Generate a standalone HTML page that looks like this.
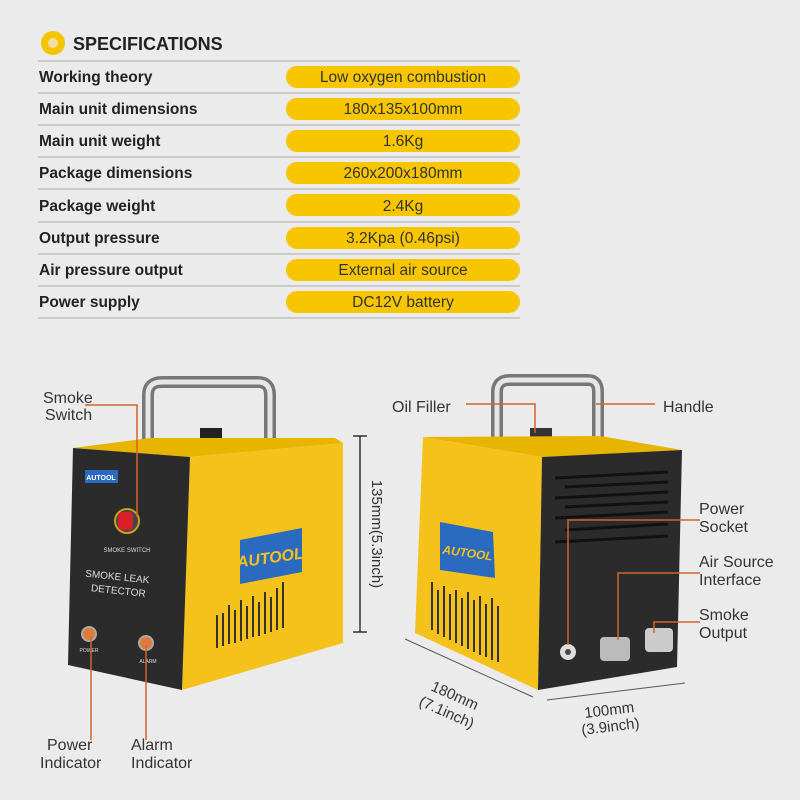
<!DOCTYPE html>
<html><head><meta charset="utf-8"><style>
html,body{margin:0;padding:0;background:#ebebeb;}
svg{display:block;font-family:"Liberation Sans",sans-serif;}
</style></head><body>
<svg width="800" height="800" viewBox="0 0 800 800" xmlns="http://www.w3.org/2000/svg">
<rect width="800" height="800" fill="#ebebeb"/>
<circle cx="53" cy="43" r="12" fill="#f5c400"/><circle cx="53" cy="43" r="5" fill="#f0e0a0"/>
<text x="73" y="50" font-size="18" font-weight="bold" fill="#222">SPECIFICATIONS</text>
<g stroke="#b8b8b8" stroke-width="1.2">
<line x1="38" y1="61" x2="520" y2="61"/><line x1="38" y1="93" x2="520" y2="93"/>
<line x1="38" y1="125" x2="520" y2="125"/><line x1="38" y1="157" x2="520" y2="157"/>
<line x1="38" y1="189" x2="520" y2="189"/><line x1="38" y1="222" x2="520" y2="222"/>
<line x1="38" y1="254" x2="520" y2="254"/><line x1="38" y1="286" x2="520" y2="286"/>
<line x1="38" y1="318" x2="520" y2="318"/>
</g>
<g fill="#f7c600">
<rect x="286" y="66" width="234" height="22" rx="11"/><rect x="286" y="98" width="234" height="22" rx="11"/>
<rect x="286" y="130" width="234" height="22" rx="11"/><rect x="286" y="162" width="234" height="22" rx="11"/>
<rect x="286" y="194" width="234" height="22" rx="11"/><rect x="286" y="227" width="234" height="22" rx="11"/>
<rect x="286" y="259" width="234" height="22" rx="11"/><rect x="286" y="291" width="234" height="22" rx="11"/>
</g>
<g font-size="15.5" font-weight="bold" fill="#222">
<text x="39" y="82">Working theory</text><text x="39" y="114">Main unit dimensions</text>
<text x="39" y="146">Main unit weight</text><text x="39" y="178">Package dimensions</text>
<text x="39" y="211">Package weight</text><text x="39" y="243">Output pressure</text>
<text x="39" y="275">Air pressure output</text><text x="39" y="307">Power supply</text>
</g>
<g font-size="15.5" fill="#333" text-anchor="middle">
<text x="403" y="82">Low oxygen combustion</text><text x="403" y="114">180x135x100mm</text>
<text x="403" y="146">1.6Kg</text><text x="403" y="178">260x200x180mm</text>
<text x="403" y="211">2.4Kg</text><text x="403" y="243">3.2Kpa (0.46psi)</text>
<text x="403" y="275">External air source</text><text x="403" y="307">DC12V  battery</text>
</g>

<path d="M148 445 V395 Q148 382 162 382 H258 Q270 382 270 395 V445" fill="none" stroke="#777" stroke-width="12"/>
<path d="M148 445 V395 Q148 382 162 382 H258 Q270 382 270 395 V445" fill="none" stroke="#e6e6e6" stroke-width="5"/>
<rect x="200" y="428" width="22" height="14" fill="#222"/>
<polygon points="73,448 150,438 335,438 343,443 190,457" fill="#e7b400"/>
<polygon points="190,457 343,443 343,643 182,690" fill="#f5c21b"/>
<polygon points="73,448 190,457 182,690 68,665" fill="#2b2b2b"/>
<rect x="85" y="470" width="33" height="13" fill="#2a6bc0"/><text x="101" y="480" font-size="7" fill="#fff" text-anchor="middle" font-weight="bold">AUTOOL</text>
<circle cx="127" cy="521" r="12" fill="#444" stroke="#c8a020" stroke-width="2"/><rect x="118" y="512" width="15" height="18" rx="4" fill="#d8202a"/>
<text x="127" y="552" font-size="6" fill="#ddd" text-anchor="middle">SMOKE SWITCH</text>
<text x="117" y="580" font-size="10" fill="#ddd" text-anchor="middle" transform="rotate(6 117 580)">SMOKE LEAK</text>
<text x="118" y="594" font-size="10" fill="#ddd" text-anchor="middle" transform="rotate(6 118 594)">DETECTOR</text>
<circle cx="89" cy="634" r="7" fill="#e07a3a" stroke="#aaa" stroke-width="2"/><circle cx="146" cy="643" r="7" fill="#e07a3a" stroke="#aaa" stroke-width="2"/>
<text x="89" y="652" font-size="5" fill="#ddd" text-anchor="middle">POWER</text><text x="148" y="663" font-size="5" fill="#ddd" text-anchor="middle">ALARM</text>
<polygon points="240,540 302,528 302,572 240,584" fill="#2a6bc0"/>
<text x="271" y="563" font-size="16" font-weight="bold" font-style="italic" fill="#f5c21b" text-anchor="middle" transform="rotate(-8 271 563)">AUTOOL</text>
<g stroke="#333" stroke-width="2">
<line x1="217" y1="615" x2="217" y2="648"/><line x1="223" y1="613" x2="223" y2="646"/><line x1="229" y1="605" x2="229" y2="644"/>
<line x1="235" y1="610" x2="235" y2="643"/><line x1="241" y1="600" x2="241" y2="641"/><line x1="247" y1="606" x2="247" y2="639"/>
<line x1="253" y1="596" x2="253" y2="637"/><line x1="259" y1="602" x2="259" y2="636"/><line x1="265" y1="592" x2="265" y2="634"/>
<line x1="271" y1="597" x2="271" y2="632"/><line x1="277" y1="588" x2="277" y2="630"/><line x1="283" y1="582" x2="283" y2="628"/>
</g>
<g stroke="#333" stroke-width="1.5"><line x1="360" y1="436" x2="360" y2="632"/><line x1="353" y1="436" x2="367" y2="436"/><line x1="353" y1="632" x2="367" y2="632"/></g>
<text x="372" y="534" font-size="15" fill="#333" text-anchor="middle" transform="rotate(90 372 534)">135mm(5.3inch)</text>
<g stroke="#d0642a" stroke-width="1.5" fill="none">
<polyline points="85,405 137,405 137,517"/><line x1="91" y1="636" x2="91" y2="740"/><line x1="146" y1="645" x2="146" y2="740"/>
</g>
<g font-size="16" fill="#333">
<text x="43" y="403">Smoke</text><text x="45" y="420">Switch</text>
<text x="47" y="750">Power</text><text x="40" y="768">Indicator</text>
<text x="131" y="750">Alarm</text><text x="131" y="768">Indicator</text>
</g>

<path d="M497 440 V392 Q497 380 510 380 H588 Q598 380 598 392 V440" fill="none" stroke="#777" stroke-width="12"/>
<path d="M497 440 V392 Q497 380 510 380 H588 Q598 380 598 392 V440" fill="none" stroke="#e6e6e6" stroke-width="5"/>
<rect x="530" y="428" width="22" height="14" fill="#333"/>
<polygon points="423,437 600,436 682,450 542,457" fill="#e7b400"/>
<polygon points="423,437 542,457 538,690 415,633" fill="#f5c21b"/>
<polygon points="542,457 682,450 677,667 538,690" fill="#2b2b2b"/>
<polygon points="440,522 493,532 495,578 440,570" fill="#2a6bc0"/>
<text x="467" y="557" font-size="12" font-weight="bold" font-style="italic" fill="#f5c21b" text-anchor="middle" transform="rotate(8 467 557)">AUTOOL</text>
<g stroke="#333" stroke-width="2">
<line x1="432" y1="582" x2="432" y2="630"/><line x1="438" y1="590" x2="438" y2="634"/><line x1="444" y1="586" x2="444" y2="637"/>
<line x1="450" y1="594" x2="450" y2="640"/><line x1="456" y1="590" x2="456" y2="643"/><line x1="462" y1="598" x2="462" y2="646"/>
<line x1="468" y1="592" x2="468" y2="649"/><line x1="474" y1="600" x2="474" y2="652"/><line x1="480" y1="596" x2="480" y2="655"/>
<line x1="486" y1="604" x2="486" y2="657"/><line x1="492" y1="598" x2="492" y2="660"/><line x1="498" y1="606" x2="498" y2="662"/>
</g>
<g stroke="#111" stroke-width="3">
<line x1="555" y1="478" x2="668" y2="472"/><line x1="565" y1="487" x2="668" y2="482"/><line x1="555" y1="498" x2="668" y2="492"/>
<line x1="565" y1="507" x2="668" y2="502"/><line x1="555" y1="518" x2="668" y2="512"/><line x1="565" y1="530" x2="668" y2="524"/><line x1="555" y1="542" x2="668" y2="536"/>
</g>
<circle cx="568" cy="652" r="8" fill="#ddd"/><circle cx="568" cy="652" r="3" fill="#444"/>
<rect x="600" y="637" width="30" height="24" rx="4" fill="#bbb"/>
<rect x="645" y="628" width="28" height="24" rx="4" fill="#ccc"/>
<g stroke="#d0642a" stroke-width="1.5" fill="none">
<polyline points="466,404 535,404 535,433"/><polyline points="596,404 655,404"/>
<polyline points="568,645 568,520 700,520"/><polyline points="618,640 618,573 700,573"/><polyline points="654,633 654,622 700,622"/>
</g>
<g font-size="16" fill="#333">
<text x="392" y="412">Oil Filler</text><text x="663" y="412">Handle</text>
<text x="699" y="514">Power</text><text x="699" y="532">Socket</text>
<text x="699" y="567">Air Source</text><text x="699" y="585">Interface</text>
<text x="699" y="620">Smoke</text><text x="699" y="638">Output</text>
</g>
<g stroke="#555" stroke-width="1"><line x1="405" y1="639" x2="533" y2="697"/><line x1="547" y1="700" x2="685" y2="683"/></g>
<text x="430" y="690" font-size="15" fill="#333" transform="rotate(24 430 690)">180mm</text>
<text x="418" y="705" font-size="15" fill="#333" transform="rotate(24 418 705)">(7.1inch)</text>
<text x="585" y="718" font-size="15" fill="#333" transform="rotate(-7 585 718)">100mm</text>
<text x="582" y="735" font-size="15" fill="#333" transform="rotate(-7 582 735)">(3.9inch)</text>
</svg>
</body></html>
